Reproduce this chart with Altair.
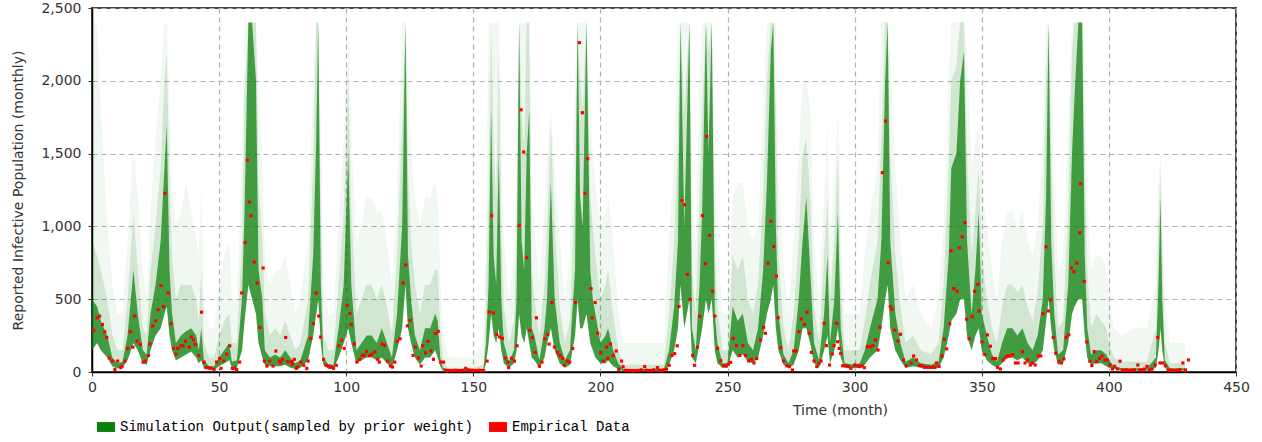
import altair as alt
import pandas as pd

SIM = "Simulation Output(sampled by prior weight)"
EMP = "Empirical Data"

x_ticks = [0, 50, 100, 150, 200, 250, 300, 350, 400, 450]
y_ticks = [0, 500, 1000, 1500, 2000, 2500]

# Simulation cloud, read at knots along time: lower edge of dense band,
# top of dark core, top of medium shading, top of faint samples
knot_month = [
    0, 2, 3.5, 6, 8, 10, 12, 14, 16.3, 18,
    20, 21.5, 23, 25, 27, 28.5, 29.4, 30.5, 31.5, 33,
    35, 37, 39, 41, 42, 43, 44, 46, 48, 50,
    52, 54, 55, 57, 59, 60, 61.5, 63, 64.5, 65.5,
    67, 68, 70, 72, 74, 76, 78, 80, 82, 85,
    87, 88.2, 89, 90, 91, 93, 95, 97, 99, 100.8,
    102, 104, 106, 108, 110, 112, 114, 116, 118, 120,
    122, 123.3, 124.3, 125.5, 127, 129, 131, 133, 135, 136,
    137, 138, 140, 150, 154, 155, 156, 157, 158, 159,
    160, 161, 162, 164, 166, 167, 168, 169, 170, 171,
    172, 173, 174, 176, 178, 179, 180.5, 182, 184, 186,
    188, 190, 191, 192, 193, 194.5, 196, 197, 198, 200,
    202, 203, 205, 207, 209, 225, 227, 229, 230.5, 231.5,
    233, 235, 236, 237.5, 239, 240, 241.5, 242.5, 243.8, 245,
    246, 248, 250, 252, 254, 256, 258, 260, 262, 264,
    265.5, 267, 268, 269, 270, 272, 274, 276, 278, 279.5,
    281, 282.5, 284, 286, 288, 289.3, 290.3, 292, 293.4, 294.5,
    296, 300, 302, 304, 306, 309, 310.5, 312, 313, 314,
    316, 318, 320, 323, 326, 330, 333, 335, 337, 338,
    340, 341.5, 343, 344.2, 346, 347.5, 348.8, 350, 352, 354,
    356, 358, 360, 362, 364, 366, 368, 370, 372, 374,
    375.3, 376.3, 377.3, 378.5, 380, 382, 384, 385.5, 386.5, 388,
    389.5, 390.5, 391.5, 393, 395, 397, 399, 400, 402, 405,
    410, 415, 418.5, 419.5, 420.3, 421, 422, 424, 430,
]
core_lo = [
    150, 200, 150, 100, 40, 25, 30, 80, 200, 150,
    60, 50, 150, 250, 300, 400, 450, 250, 150, 80,
    100, 120, 140, 100, 60, 80, 30, 15, 15, 40,
    60, 80, 30, 30, 150, 350, 600, 500, 400, 200,
    100, 50, 40, 40, 40, 50, 30, 20, 30, 80,
    250, 400, 500, 200, 50, 20, 20, 100, 200, 300,
    200, 60, 80, 100, 100, 80, 100, 60, 30, 150,
    300, 600, 300, 200, 100, 50, 100, 100, 150, 100,
    40, 10, 5, 5, 5, 60, 200, 400, 250, 200,
    300, 150, 60, 30, 60, 150, 400, 250, 200, 300,
    200, 100, 80, 30, 100, 200, 300, 150, 60, 30,
    50, 250, 500, 300, 300, 400, 200, 150, 100, 60,
    60, 80, 40, 20, 5, 5, 50, 150, 300, 600,
    300, 500, 100, 60, 200, 300, 500, 400, 500, 150,
    60, 30, 30, 150, 100, 120, 70, 60, 100, 250,
    400, 500, 600, 300, 150, 50, 30, 50, 150, 300,
    300, 200, 60, 30, 150, 250, 60, 150, 300, 100,
    30, 25, 30, 50, 100, 150, 300, 500, 600, 300,
    150, 80, 30, 40, 30, 25, 30, 100, 250, 350,
    400, 500, 500, 250, 150, 250, 300, 150, 80, 50,
    30, 60, 100, 100, 80, 100, 60, 50, 80, 150,
    350, 500, 300, 150, 50, 60, 200, 400, 450, 500,
    500, 250, 100, 50, 60, 60, 40, 30, 20, 10,
    10, 10, 30, 150, 300, 150, 30, 10, 10,
]
core_hi = [
    500, 450, 350, 250, 100, 60, 70, 250, 700, 400,
    150, 120, 400, 600, 900, 1400, 1700, 700, 400, 200,
    250, 280, 300, 250, 150, 300, 80, 40, 40, 100,
    150, 200, 70, 80, 500, 1100, 2400, 2400, 2000, 700,
    500, 150, 100, 120, 100, 150, 100, 60, 80, 250,
    800, 1600, 2400, 600, 100, 50, 50, 300, 600, 1500,
    600, 150, 200, 250, 250, 200, 300, 200, 100, 400,
    1000, 2400, 800, 500, 250, 150, 300, 300, 400, 350,
    100, 30, 15, 15, 20, 200, 600, 1800, 800, 600,
    1500, 500, 200, 70, 150, 500, 2400, 900, 700, 1500,
    1800, 300, 250, 80, 300, 500, 1300, 500, 200, 80,
    150, 700, 2400, 1200, 1000, 2400, 700, 500, 400, 200,
    250, 300, 150, 60, 20, 20, 150, 450, 900, 2400,
    1000, 2400, 300, 150, 600, 1100, 2400, 1500, 2400, 400,
    200, 60, 60, 450, 350, 400, 200, 150, 300, 700,
    1300, 2200, 2400, 1000, 400, 120, 60, 150, 500, 900,
    1200, 700, 200, 80, 400, 800, 200, 500, 1100, 300,
    60, 50, 60, 150, 300, 500, 900, 2000, 2400, 900,
    400, 200, 70, 100, 60, 50, 70, 300, 800, 1400,
    1500, 2000, 2200, 900, 400, 700, 1100, 400, 250, 120,
    70, 200, 300, 300, 250, 300, 200, 150, 250, 500,
    1200, 2400, 900, 400, 120, 150, 600, 1500, 1900, 2400,
    2400, 800, 300, 120, 150, 150, 120, 80, 40, 25,
    25, 25, 100, 600, 1200, 500, 80, 25, 25,
]
mid_hi = [
    900, 800, 700, 500, 250, 150, 150, 500, 1100, 700,
    300, 250, 700, 1000, 1400, 2000, 2200, 1300, 800, 500,
    600, 600, 600, 500, 350, 700, 200, 100, 100, 250,
    350, 400, 200, 200, 900, 1900, 2400, 2400, 2400, 1300,
    900, 400, 250, 300, 250, 350, 250, 150, 200, 500,
    1400, 2400, 2400, 1100, 250, 150, 150, 600, 1100, 2000,
    1100, 400, 500, 600, 600, 500, 600, 450, 250, 800,
    1700, 2400, 1400, 900, 600, 400, 600, 600, 700, 700,
    300, 80, 30, 30, 50, 500, 1200, 2400, 1500, 1200,
    2200, 1000, 450, 200, 350, 900, 2400, 1800, 1500, 2400,
    2400, 700, 500, 250, 600, 1000, 1700, 1000, 450, 200,
    350, 1300, 2400, 2000, 1800, 2400, 1200, 1000, 800, 500,
    600, 700, 400, 150, 50, 50, 400, 900, 1600, 2400,
    1800, 2400, 700, 400, 1200, 1800, 2400, 2200, 2400, 800,
    450, 150, 150, 800, 700, 800, 500, 400, 600, 1200,
    2000, 2400, 2400, 1800, 800, 300, 150, 400, 900, 1500,
    1600, 1200, 450, 200, 800, 1200, 500, 900, 1500, 600,
    150, 150, 150, 350, 600, 900, 1600, 2400, 2400, 1500,
    800, 450, 200, 250, 150, 120, 200, 600, 1400, 2000,
    2100, 2400, 2400, 1500, 800, 1100, 1400, 800, 500, 300,
    200, 450, 600, 600, 550, 600, 450, 350, 550, 1000,
    2000, 2400, 1500, 800, 300, 350, 1100, 2200, 2400, 2400,
    2400, 1400, 700, 300, 400, 350, 300, 200, 100, 70,
    70, 70, 300, 1000, 1400, 800, 200, 60, 60,
]
light_hi = [
    2400, 2400, 1800, 1000, 600, 400, 400, 900, 1550, 1200,
    700, 500, 1100, 1600, 2000, 2400, 2400, 1800, 1300, 1000,
    1100, 1300, 1100, 900, 800, 1300, 500, 300, 300, 600,
    800, 900, 500, 500, 1400, 2400, 2400, 2400, 2400, 2000,
    1400, 800, 600, 700, 700, 800, 600, 400, 500, 900,
    2000, 2400, 2400, 1700, 600, 400, 400, 1000, 1600, 2300,
    1600, 900, 1000, 1200, 1200, 1100, 1100, 900, 600, 1200,
    2400, 2400, 2000, 1500, 1200, 1000, 1200, 1200, 1300, 1200,
    600, 300, 100, 100, 200, 1000, 2400, 2400, 2400, 2400,
    2400, 1600, 900, 500, 800, 1400, 2400, 2400, 2400, 2400,
    2400, 1200, 1000, 600, 1100, 1500, 1800, 1400, 900, 500,
    800, 2000, 2400, 2400, 2400, 2400, 1800, 1500, 1300, 1000,
    1100, 1200, 900, 400, 200, 200, 900, 1500, 2400, 2400,
    2400, 2400, 1200, 900, 2000, 2400, 2400, 2400, 2400, 1400,
    900, 400, 400, 1200, 1300, 1300, 1000, 900, 1000, 1800,
    2400, 2400, 2400, 2400, 1400, 700, 400, 900, 1500, 2000,
    2000, 1800, 900, 500, 1200, 1700, 900, 1300, 1800, 1000,
    400, 400, 400, 800, 1100, 1400, 2400, 2400, 2400, 2200,
    1400, 900, 500, 600, 400, 300, 500, 1000, 2000, 2400,
    2400, 2400, 2400, 2200, 1400, 1600, 1700, 1300, 1000, 700,
    500, 900, 1100, 1100, 1000, 1100, 900, 800, 1000, 1600,
    2400, 2400, 2200, 1400, 700, 800, 1700, 2400, 2400, 2400,
    2400, 2000, 1200, 700, 800, 800, 700, 500, 300, 250,
    300, 300, 600, 1300, 1500, 1100, 500, 200, 200,
]

# Empirical data (red dots)
emp_month = [
    0.7, 2.0, 3.0, 4.1, 5.0, 5.8, 6.8, 8.0, 9.0, 10.1, 11.3, 11.8, 12.9, 14.0, 15.1,
    16.1, 16.8, 17.8, 19.0, 20.1, 21.0, 22.2, 22.8, 23.9, 25.0, 26.0, 27.1, 28.2, 28.7,
    29.9, 31.1, 32.1, 33.0, 33.7, 34.9, 35.8, 36.8, 38.2, 39.1, 39.9, 40.6, 42.0, 43.1,
    44.1, 44.8, 45.9, 46.8, 48.0, 49.0, 50.2, 50.7, 51.8, 53.0, 54.2, 55.2, 56.1, 56.9,
    58.1, 58.9, 60.2, 61.1, 61.9, 62.5, 63.8, 65.0, 66.0, 67.3, 67.8, 68.8, 69.9, 71.2,
    72.3, 73.6, 74.2, 74.9, 76.2, 77.0, 78.5, 78.8, 79.6, 80.4,
    81.0, 82.2, 83.3, 84.5, 85.0, 86.1, 87.1, 88.2, 89.2, 89.9, 91.1, 92.1, 93.2, 94.2,
    95.0, 96.1, 97.1, 98.2, 99.2, 100.4, 101.5, 102.0, 103.2, 104.2, 105.3, 106.3, 107.0,
    108.0, 109.1, 110.1, 111.3, 112.4, 113.0, 114.1, 115.1, 116.3, 117.4, 118.2, 119.1,
    120.1, 121.2, 122.4, 123.4, 124.1, 125.1, 126.3, 127.2, 128.4, 129.5, 130.1, 131.2,
    132.2, 133.3, 134.3, 135.0, 136.2, 137.2, 138.3,
    139, 140, 141, 142, 143, 144, 145, 146, 147, 148, 149, 150, 151, 152, 153, 154,
    155.4, 156.2, 157.2, 157.9, 159.2, 160.3, 161.4, 162.6, 163.6,
    163.9, 165.0, 166.2, 167.2, 168.1, 168.8, 169.8, 171.0, 172.2, 173.2, 174.3, 174.8,
    176.0, 177.0, 178.1, 179.3, 179.8, 180.9, 181.9, 183.1, 184.1, 185.2, 185.8, 186.9,
    187.9, 189.1, 190.2, 191.7, 192.9, 193.9, 195.0, 196.3, 196.8, 197.9, 198.9, 200.1,
    201.2, 202.4, 202.9, 203.9, 205.1, 206.2, 207.2, 208.3, 208.9,
    210, 211, 212, 213, 214, 215, 216, 217.4, 218, 219, 220, 221, 222.4, 223, 224, 225, 226,
    227.0, 228.1, 229.2, 230.2, 230.9, 232.1, 233.1, 234.2, 235.3, 236.3, 237.0, 238.2,
    239.1, 240.1, 241.3, 241.8, 242.9, 244.1, 245.0, 246.1,
    247.3, 248.4, 249.5, 250.3, 251.2, 252.2, 253.5, 254.8, 256.0, 257.1, 258.3, 259.4,
    260.4, 261.5, 263.0, 264.2, 264.9, 265.9, 267.0, 268.2, 269.2, 269.9, 270.9, 272.0,
    273.3, 274.3, 275.5, 276.0, 277.0, 278.1, 279.0, 280.2, 281.3, 282.1, 283.0, 284.0,
    285.1, 286.0, 286.8, 288.0, 288.9, 290.1, 291.2, 291.9, 292.9, 293.3, 293.9, 294.5,
    295.3, 296.5, 297.5, 298.5, 300.0, 301.1, 302.1, 302.9, 303.8, 305.0, 306.1, 307.2,
    308.2, 309.2, 309.9, 310.9, 312.1, 313.1, 314.0, 314.6, 315.8, 317.0, 318.0, 319.2,
    320.3,
    322.2, 323.2, 324.3, 325.5, 326.4, 327.4, 328.5, 329.7, 330.7, 331.6, 332.2, 333.2,
    334.3, 335.2, 336.2, 337.4, 337.9, 339.0, 340.3, 341.2, 342.3, 343.4, 344.0, 345.0,
    346.2, 347.2, 348.4, 348.9, 350.1, 351.2, 352.2, 353.4, 354.3, 355.4, 356.2, 357.3,
    358.4, 359.4, 360.2, 361.1, 362.2, 363.2, 364.3, 366.0, 367.0, 368.1, 369.1, 369.9,
    371.0, 372.2, 373.2, 374.1, 375.3, 376.2, 377.1, 378.1, 379.1, 380.3, 381.3, 382.3,
    383.2, 384.2, 385.3, 386.3, 387.4, 388.5, 388.8, 390.3, 391.3, 392.5, 393.3, 394.2,
    395.2, 396.3, 397.3, 398.4, 399.4, 400.4, 401.4, 402.3, 403.4, 404.4, 405.3,
    406, 407, 408, 409, 410, 411.4, 412, 413, 414, 415.0, 416, 417, 418.2, 419.2, 420.1,
    421.2, 422.2, 423.3, 424, 425, 426, 427, 428, 429.1, 430.1, 431.3,
]
emp_value = [
    285, 372, 384, 326, 276, 237, 96, 75, 18, 75, 30, 39, 75, 162, 276,
    171, 384, 212, 189, 68, 75, 114, 192, 317, 352, 429, 594, 450, 1227,
    543, 333, 162, 123, 162, 180, 180, 212, 171, 240, 221, 189, 114, 411,
    68, 30, 30, 25, 18, 68, 94, 25, 75, 123, 180, 25, 25, 18,
    68, 543, 888, 1456, 1167, 1073, 756, 612, 306, 714, 75, 41, 75, 41,
    144, 75, 64, 87, 237, 71, 71, 53, 87, 25,
    34, 68, 46, 25, 75, 231, 333, 543, 384, 240, 87, 46, 41, 34,
    25, 46, 180, 219, 162, 459, 402, 326, 192, 68, 87, 114, 114,
    141, 114, 123, 139, 87, 68, 192, 183, 75, 41, 34, 68,
    210, 228, 612, 735, 317, 354, 114, 171, 96, 41, 180, 132,
    210, 144, 87, 265, 279, 68, 68,
    12, 10, 10, 10, 12, 10, 10, 12, 25, 15, 12, 10, 10, 12, 10, 10,
    75, 412, 1074, 405, 258, 240, 231, 96, 68,
    30, 94, 75, 180, 1007, 1801, 1511, 785, 285, 237, 135, 372,
    39, 68, 228, 258, 192, 477, 171, 135, 114, 94, 46, 75,
    68, 162, 477, 2262, 1781, 1227, 1465, 573, 372, 477, 267, 132,
    75, 171, 94, 192, 114, 144, 18, 75, 37,
    12, 10, 10, 8, 10, 10, 15, 37, 12, 10, 10, 15, 30, 12, 10, 15, 20,
    46, 114, 126, 180, 450, 1177, 1149, 670, 498, 114, 46, 171,
    381, 1074, 745, 1619, 938, 555, 384, 162,
    78, 43, 43, 53, 66, 231, 181, 114, 181, 114, 76, 87,
    62, 92, 220, 307, 266, 746, 1035, 861, 659, 373, 167, 76,
    43, 37, 14, 144, 144, 277, 364, 327, 410, 266, 135, 76,
    37, 60, 76, 334, 181, 48, 124, 181, 334, 208, 162, 128,
    43, 43, 37, 25, 48, 43, 37, 43, 30, 174, 174, 181,
    220, 151, 307, 1369, 1724, 751, 449, 430, 288, 213, 259, 82,
    43,
    62, 110, 83, 44, 44, 32, 32, 32, 32, 32, 62, 39,
    110, 225, 159, 331, 833, 573, 554, 853, 929, 1026, 363, 228,
    380, 554, 603, 419, 207, 120, 255, 177, 92, 92, 32, 21,
    83, 101, 110, 110, 120, 62, 62, 140, 62, 83, 48, 62,
    48, 110, 110, 400, 860, 419, 495, 237, 129, 74, 62, 90,
    237, 255, 715, 688, 748, 957, 1293, 621, 207, 74, 44, 140,
    71, 92, 110, 83, 83, 48, 21, 39, 21, 74, 14,
    12, 15, 10, 12, 15, 48, 12, 15, 20, 39, 15, 20, 48, 237, 62,
    62, 44, 14, 12, 12, 10, 12, 15, 62, 14, 83,
]

assert len(knot_month) == len(core_lo) == len(core_hi) == len(mid_hi) == len(light_hi)
assert len(emp_month) == len(emp_value)

sim_df = pd.DataFrame({
    "month": knot_month, "lo": core_lo, "core": core_hi,
    "mid": mid_hi, "light": light_hi, "series": SIM,
})
emp_df = pd.DataFrame({"month": emp_month, "value": emp_value, "series": EMP})

GREEN = "#0a7f0a"
TEXT = "#333333"

x_scale = alt.Scale(domain=[0, 450], nice=False, zero=False)
y_scale = alt.Scale(domain=[0, 2500], nice=False)

x_axis = alt.Axis(
    values=x_ticks, title="Time (month)", titleX=748, titleY=38,
    titleBaseline="middle", titleAnchor="start", titleAlign="center",
    labelFlush=False,
)
y_axis = alt.Axis(
    values=y_ticks, format=",.0f", title="Reported Infective Population (monthly)",
    titleX=-74, titleY=182, titleAngle=270, titleBaseline="middle",
    titleAlign="center", labelFlush=False,
)

color_scale = alt.Scale(domain=[SIM, EMP], range=[GREEN, "#ff0000"])
legend = alt.Legend(
    title=None, orient="none", legendX=5, legendY=410, direction="horizontal",
    symbolType="M-1,-0.55H1V0.55H-1Z", symbolSize=324, symbolStrokeWidth=0,
    symbolOpacity=1, labelFont="Liberation Mono", labelFontSize=14,
    labelColor="#000000", labelLimit=600, columnPadding=16, labelOffset=5,
)

X = alt.X("month:Q", scale=x_scale, axis=x_axis)

light = alt.Chart(sim_df).mark_area(color=GREEN, opacity=0.06).encode(
    x=X, y=alt.Y("lo:Q", scale=y_scale, axis=y_axis), y2="light:Q"
)
mid = alt.Chart(sim_df).mark_area(color=GREEN, opacity=0.14).encode(
    x=X, y=alt.Y("lo:Q", scale=y_scale, axis=y_axis), y2="mid:Q"
)
core = alt.Chart(sim_df).mark_area(opacity=0.72).encode(
    x=X, y=alt.Y("lo:Q", scale=y_scale, axis=y_axis), y2="core:Q",
    color=alt.Color("series:N", scale=color_scale, legend=legend),
)
pts = alt.Chart(emp_df).mark_square(size=10, opacity=1).encode(
    x=X, y=alt.Y("value:Q", scale=y_scale, axis=y_axis),
    color=alt.Color("series:N", scale=color_scale, legend=legend),
)

chart = (
    alt.layer(light, mid, core, pts)
    .properties(
        width=1144, height=364, autosize="none",
        padding={"left": 92, "top": 8, "right": 26, "bottom": 62},
        background="#ffffff",
    )
    .configure_view(stroke="#444444", strokeWidth=2)
    .configure_axis(
        labelFont="DejaVu Sans", labelFontSize=14, labelColor=TEXT,
        titleFont="DejaVu Sans", titleFontSize=14, titleColor=TEXT,
        titleFontWeight="normal",
        domainColor="#000000", domainWidth=1.5, tickColor="#333333",
        tickSize=4, labelPadding=4,
        gridColor="#b0b0b0", gridDash=[5, 4], gridWidth=1.2,
    )
    .configure_axisY(labelPadding=7)
)

chart.save("out.html", embed_options={"renderer": "svg", "actions": False})
